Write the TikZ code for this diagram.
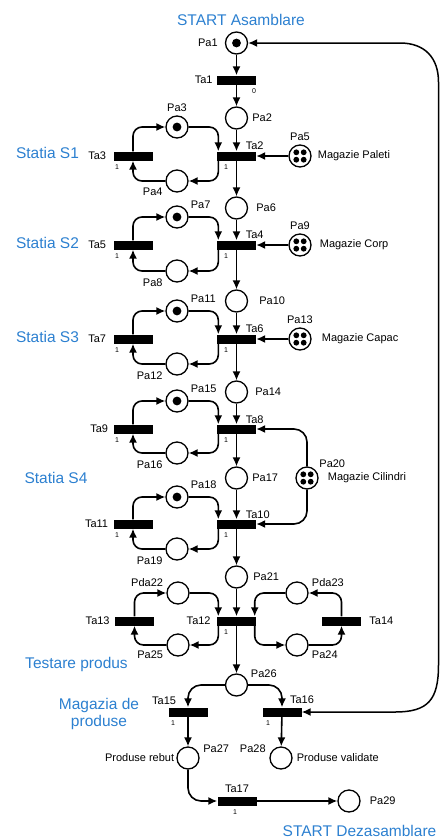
\documentclass[tikz,border=0pt]{standalone}
\usepackage{fontspec}
\setmainfont{Liberation Sans}
\usepackage{xcolor}
\usetikzlibrary{shapes,arrows.meta}
\definecolor{titlublue}{RGB}{44,128,208}

\begin{document}
\begin{tikzpicture}[x=1pt,y=-1pt,label distance=3pt]
	\tikzset{loc/.style={circle, draw, line width=1.3pt, minimum size=22pt, inner sep=0pt},
		trz/.style={rectangle, fill=black, minimum width=39pt, minimum height=9pt, inner sep=0pt},
		marc1/.style={path picture={\fill (path picture bounding box.center) circle (4.4pt);}},
		marc4/.style={path picture={\foreach \dx/\dy in {-3.7/-3.7,3.7/-3.7,-3.7/3.7,3.7/3.7}
				\fill ([shift={(\dx pt,\dy pt)}]path picture bounding box.center) circle (2.9pt);}},
		arc/.style={-{Latex[length=9pt,width=8pt]}, line width=1.6pt, rounded corners=9pt},
		arcdublu/.style={{Latex[length=9pt,width=8pt]}-{Latex[length=9pt,width=8pt]}, line width=1.5pt},
		every label/.style={font=\fontsize{11}{13}\selectfont, inner sep=1pt},
		nr/.style={font=\fontsize{7}{8}\selectfont, inner sep=1pt},
		titlu/.style={font=\fontsize{15.5}{17}\selectfont, text=titlublue, align=center, inner sep=0pt}};
	\useasboundingbox (0,0) rectangle (440,839);
	\node[titlu] (tAs) at (241,20) {START Asamblare};
	\node[titlu] (tS1) at (47.5,153) {Statia S1};
	\node[titlu] (tS2) at (47.5,243) {Statia S2};
	\node[titlu] (tS3) at (47.5,337) {Statia S3};
	\node[titlu] (tS4) at (56,478) {Statia S4};
	\node[titlu] (tTest) at (76.5,664) {Testare produs};
	\node[titlu] (tMag) at (99,714) {Magazia de\\produse};
	\node[titlu] (tDez) at (359.5,831) {START Dezasamblare};
	\node[loc,marc1,label={[label distance=6pt]left:Pa1}] (Pa1) at (236.5,43) {};
	\node[trz,label=left:Ta1,label={[nr,xshift=17.5pt]below:0}] (Ta1) at (236.5,80) {};
	\node[loc,label=right:Pa2] (Pa2) at (236.5,118) {};
	\node[trz,label={[label distance=0pt]30:Ta2},label={[nr,xshift=-10.5pt]below:1}] (Ta2) at (236.5,156) {};
	\node[trz,label={[label distance=6pt]left:Ta3},label={[nr,xshift=-16pt]below:1}] (Ta3) at (133,156) {};
	\node[loc,marc1,label=above:Pa3] (Pa3) at (177,127) {};
	\node[loc,label=205:Pa4] (Pa4) at (177,181) {};
	\node[loc,marc4,label=above:Pa5,label={[label distance=5pt]right:Magazie Paleti}] (Pa5) at (300,156) {};
	\node[loc,label={[label distance=7pt]right:Pa6}] (Pa6) at (236.5,208) {};
	\node[trz,label={[label distance=0pt]30:Ta4},label={[nr,xshift=-10.5pt]below:1}] (Ta4) at (236.5,245) {};
	\node[trz,label={[label distance=6pt]left:Ta5},label={[nr,xshift=-16pt]below:1}] (Ta5) at (133,245) {};
	\node[loc,marc1,label=30:Pa7] (Pa7) at (177,217) {};
	\node[loc,label=205:Pa8] (Pa8) at (177,271) {};
	\node[loc,marc4,label=above:Pa9,label={[label distance=7pt]right:Magazie Corp}] (Pa9) at (300,245) {};
	\node[loc,label={[label distance=10pt]right:Pa10}] (Pa10) at (236.5,301) {};
	\node[trz,label={[label distance=0pt]30:Ta6},label={[nr,xshift=-10.5pt]below:1}] (Ta6) at (236.5,339) {};
	\node[trz,label={[label distance=6pt]left:Ta7},label={[nr,xshift=-16pt]below:1}] (Ta7) at (133,339) {};
	\node[loc,marc1,label=30:Pa11] (Pa11) at (177,311) {};
	\node[loc,label=205:Pa12] (Pa12) at (177,364) {};
	\node[loc,marc4,label=above:Pa13,label={[label distance=9pt]right:Magazie Capac}] (Pa13) at (300,339) {};
	\node[loc,label={[label distance=6pt]right:Pa14}] (Pa14) at (236.5,392) {};
	\node[trz,label={[label distance=0pt]30:Ta8},label={[nr,xshift=-10.5pt]below:1}] (Ta8) at (236.5,429) {};
	\node[trz,label={[label distance=4pt]left:Ta9},label={[nr,xshift=-16pt]below:1}] (Ta9) at (133,429) {};
	\node[loc,marc1,label=30:Pa15] (Pa15) at (177,401) {};
	\node[loc,label=205:Pa16] (Pa16) at (177,453) {};
	\node[loc,label=right:Pa17] (Pa17) at (236.5,478) {};
	\node[loc,marc4,label=40:Pa20,label={[label distance=8pt]right:Magazie Cilindri}] (Pa20) at (307,478) {};
	\node[trz,label={[label distance=0pt]30:Ta10},label={[nr,xshift=-10.5pt]below:1}] (Ta10) at (236.5,524) {};
	\node[trz,label={[label distance=4pt]left:Ta11},label={[nr,xshift=-16pt]below:1}] (Ta11) at (133,524) {};
	\node[loc,marc1,label=30:Pa18] (Pa18) at (177,497) {};
	\node[loc,label=205:Pa19] (Pa19) at (177,549) {};
	\node[loc,label={[label distance=4pt]right:Pa21}] (Pa21) at (236.5,577) {};
	\node[trz,label={[label distance=5pt]left:Ta12},label={[nr,xshift=-10.5pt]below:1}] (Ta12) at (236.5,621) {};
	\node[trz,label={[label distance=4pt]left:Ta13}] (Ta13) at (134.5,621) {};
	\node[trz,label={[label distance=7pt]right:Ta14}] (Ta14) at (341.5,621) {};
	\node[loc,label=160:Pda22] (Pda22) at (178,593) {};
	\node[loc,label=200:Pa25] (Pa25) at (178,645) {};
	\node[loc,label=20:Pda23] (Pda23) at (297,593) {};
	\node[loc,label=-20:Pa24] (Pa24) at (297,645) {};
	\node[loc,label=25:Pa26] (Pa26) at (236.5,685) {};
	\node[trz,label=150:Ta15,label={[nr,xshift=-15pt]below:1}] (Ta15) at (188,712) {};
	\node[trz,label=45:Ta16,label={[nr,xshift=-14pt]below:1}] (Ta16) at (282,712) {};
	\node[loc,label=15:Pa27,label={[label distance=1pt]left:Produse rebut}] (Pa27) at (188,758) {};
	\node[loc,label=165:Pa28,label=right:Produse validate] (Pa28) at (281,758) {};
	\node[trz,label=above:Ta17,label={[nr,xshift=-2pt]below:1}] (Ta17) at (237,801) {};
	\node[loc,label={[label distance=8pt]right:Pa29}] (Pa29) at (349,801) {};
	\draw[arc] (Pa1) -- (Ta1);
	\draw[arc] (Ta1) -- (Pa2);
	\draw[arc] (Pa2) -- (Ta2);
	\draw[arc] (Ta2) -- (Pa6);
	\draw[arc] (Pa6) -- (Ta4);
	\draw[arc] (Ta4) -- (Pa10);
	\draw[arc] (Pa10) -- (Ta6);
	\draw[arc] (Ta6) -- (Pa14);
	\draw[arc] (Pa14) -- (Ta8);
	\draw[arc] (Ta8) -- (Pa17);
	\draw[arc] (Pa17) -- (Ta10);
	\draw[arc] (Ta10) -- (Pa21);
	\draw[arc] (Pa21) -- (Ta12);
	\draw[arc] (Ta12) -- (Pa26);
	\draw[arc] (Pa5) -- (Ta2.east);
	\draw[arc] (Pa9) -- (Ta4.east);
	\draw[arc] (Pa13) -- (Ta6.east);
	\draw[arc,rounded corners=13pt] (Pa20) |- (Ta8.east);
	\draw[arc,rounded corners=13pt] (Pa20) |- (Ta10.east);
	\draw[arc] (Ta3) |- (Pa3);
	\draw[arc] (Pa3) -| ([xshift=1.5pt]Ta2.north west);
	\draw[arc] ([xshift=1.5pt]Ta2.south west) |- (Pa4);
	\draw[arc] (Pa4) -| (Ta3);
	\draw[arc] (Ta5) |- (Pa7);
	\draw[arc] (Pa7) -| ([xshift=1.5pt]Ta4.north west);
	\draw[arc] ([xshift=1.5pt]Ta4.south west) |- (Pa8);
	\draw[arc] (Pa8) -| (Ta5);
	\draw[arc] (Ta7) |- (Pa11);
	\draw[arc] (Pa11) -| ([xshift=1.5pt]Ta6.north west);
	\draw[arc] ([xshift=1.5pt]Ta6.south west) |- (Pa12);
	\draw[arc] (Pa12) -| (Ta7);
	\draw[arc] (Ta9) |- (Pa15);
	\draw[arc] (Pa15) -| ([xshift=1.5pt]Ta8.north west);
	\draw[arc] ([xshift=1.5pt]Ta8.south west) |- (Pa16);
	\draw[arc] (Pa16) -| (Ta9);
	\draw[arc] (Ta11) |- (Pa18);
	\draw[arc] (Pa18) -| ([xshift=1.5pt]Ta10.north west);
	\draw[arc] ([xshift=1.5pt]Ta10.south west) |- (Pa19);
	\draw[arc] (Pa19) -| (Ta11);
	\draw[arc] (Ta13) |- (Pda22);
	\draw[arc] (Pda22) -| ([xshift=1.5pt]Ta12.north west);
	\draw[arc] ([xshift=1.5pt]Ta12.south west) |- (Pa25);
	\draw[arc] (Pa25) -| (Ta13);
	\draw[arc] (Ta14) |- (Pda23);
	\draw[arc] (Pda23) -| ([xshift=-1.5pt]Ta12.north east);
	\draw[arc] ([xshift=-1.5pt]Ta12.south east) |- (Pa24);
	\draw[arc] (Pa24) -| (Ta14);
	\draw[arc,rounded corners=13pt] (Pa26) -| (Ta15);
	\draw[arc,rounded corners=13pt] (Pa26) -| (Ta16);
	\draw[arc] (Ta15) -- (Pa27);
	\draw[arc] (Ta16) -- (Pa28);
	\draw[arc,rounded corners=13pt] (Pa27) |- (Ta17);
	\draw[arc] (Ta17) -- (Pa29);
	\draw[arcdublu] (Ta16.east) -- (395,712) .. controls (428,712) and (438.5,700) .. (438.5,665) -- (438.5,82) .. controls (438.5,58) and (425,43) .. (400,43) -- (Pa1.east);
\end{tikzpicture}
\end{document}
